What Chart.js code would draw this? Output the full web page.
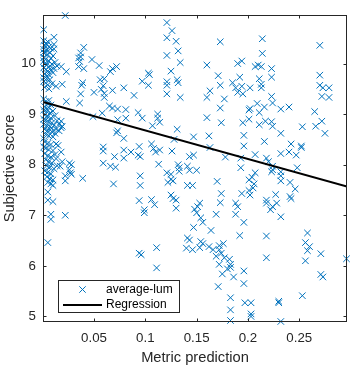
<!DOCTYPE html>
<html>
<head>
<meta charset="utf-8">
<script src="https://cdn.jsdelivr.net/npm/chart.js@4.4.1/dist/chart.umd.min.js"></script>
<style>
  html, body { margin: 0; padding: 0; background: #fff; }
  #wrap { position: relative; width: 353px; height: 370px; }
</style>
</head>
<body>
<div id="wrap"><canvas id="grafico"></canvas></div>
<script>
// [metric prediction, subjective score]
const nearZero = [
  [0.022,10.95],[0.001,10.67],[0.011,10.52],[0.011,10.38],[0.011,10.29],
  [0.001,10.45],[0.003,10.40],[0.005,10.43],[0.002,10.35],[0.006,10.33],[0.001,10.28],[0.004,10.26],[0.008,10.30],
  [0.002,10.20],[0.005,10.18],[0.007,10.22],[0.010,10.15],[0.001,10.12],[0.003,10.08],[0.006,10.05],[0.008,10.10],
  [0.002,10.00],[0.004,9.97],[0.007,9.95],[0.009,9.99],[0.012,10.02],[0.001,9.92],[0.003,9.88],[0.005,9.85],
  [0.008,9.87],[0.002,9.80],[0.006,9.78],[0.010,9.82],[0.001,9.72],[0.004,9.70],[0.007,9.68],[0.003,9.62],
  [0.005,9.58],[0.009,9.60],[0.002,9.53],[0.006,9.50],[0.013,9.55],[0.001,10.05],[0.004,9.75],[0.011,9.90],
  [0.014,9.95],[0.004,10.37],[0.001,9.65],[0.001,10.22],
  [0.018,9.94],[0.023,9.84],[0.019,9.59],[0.023,9.25],
  [0.001,9.30],[0.003,9.25],[0.005,9.20],[0.002,9.15],[0.006,9.13],[0.008,9.18],[0.001,9.08],[0.004,9.05],
  [0.007,9.02],[0.010,9.06],[0.002,8.98],[0.005,8.95],[0.008,8.92],[0.012,8.97],[0.003,8.88],[0.006,8.85],
  [0.009,8.83],[0.014,8.87],[0.001,8.80],[0.004,8.77],[0.007,8.75],[0.011,8.78],[0.016,8.80],[0.002,8.70],
  [0.005,8.68],[0.009,8.65],[0.013,8.70],[0.003,8.60],[0.006,8.57],[0.010,8.55],[0.001,8.52],[0.004,9.10],
  [0.001,8.90],[0.006,9.27],[0.009,8.72],[0.004,8.66],[0.012,8.62],
  [0.018,8.86],[0.018,8.73],[0.019,8.76],[0.016,8.67],[0.013,8.41],[0.015,8.38],[0.018,8.25],[0.026,8.03],
  [0.019,8.06],[0.028,8.00],[0.026,7.90],[0.027,7.84],[0.028,7.81],[0.022,7.78],[0.022,7.68],[0.017,7.97],
  [0.002,8.45],[0.005,8.42],[0.008,8.40],[0.003,8.33],[0.006,8.30],[0.010,8.28],[0.002,8.22],[0.005,8.18],
  [0.008,8.15],[0.012,8.20],[0.003,8.10],[0.006,8.06],[0.009,8.03],[0.004,7.98],[0.007,7.95],[0.011,7.92],
  [0.002,7.88],[0.005,7.85],[0.008,7.82],[0.004,7.76],[0.007,7.72],[0.010,7.70],[0.005,7.65],[0.008,7.62],
  [0.013,8.12],[0.014,7.98],[0.001,8.35],
  [0.010,7.59],[0.005,7.46],[0.005,7.30],[0.010,7.27],[0.008,7.02],[0.008,6.92],[0.022,7.00],[0.005,6.46]
];

const lowMetric = [
  [0.040,10.32],[0.037,10.21],[0.037,10.13],[0.035,10.11],[0.036,10.04],[0.048,10.08],[0.035,9.94],[0.040,9.90],
  [0.055,9.96],[0.068,9.90],[0.072,9.94],[0.066,9.84],[0.056,9.68],[0.060,9.70],[0.039,9.62],[0.038,9.57],
  [0.059,9.56],[0.057,9.49],[0.050,9.43],[0.060,9.41],[0.068,9.47],[0.079,9.52],[0.037,9.40],[0.060,9.33],
  [0.089,9.37],[0.036,9.22],[0.065,9.16],[0.068,9.12],[0.073,9.10],[0.058,9.02],[0.081,9.09],[0.093,9.03],
  [0.049,8.95],[0.073,8.89],[0.081,8.92],[0.073,8.67],[0.072,8.63],[0.079,8.52],[0.059,8.35],[0.059,8.27],
  [0.070,8.16],[0.079,8.29],[0.086,8.25],[0.079,8.13],[0.059,8.03],[0.066,7.97],[0.071,7.95],[0.039,7.73],
  [0.069,7.62],[0.094,6.25]
];

const midMetric = [
  [0.121,10.81],[0.126,10.65],[0.121,10.51],[0.130,10.44],[0.132,10.25],[0.121,10.16],[0.134,10.02],[0.125,9.85],
  [0.103,9.81],[0.104,9.78],[0.097,9.65],[0.103,9.57],[0.121,9.64],[0.121,9.57],[0.131,9.68],[0.132,9.62],
  [0.121,9.40],[0.134,9.33],[0.173,10.43],[0.160,9.97],[0.190,10.00],[0.194,10.05],[0.171,9.76],[0.173,9.57],
  [0.192,9.73],[0.185,9.62],[0.188,9.52],[0.194,9.55],[0.190,9.43],[0.195,9.40],[0.163,9.46],[0.160,9.33],
  [0.177,9.30],[0.173,9.12],[0.097,8.92],[0.112,9.00],[0.112,8.92],[0.160,8.93],
  [0.114,8.84],[0.107,8.77],[0.174,8.83],[0.131,8.70],[0.128,8.50],[0.147,8.55],[0.162,8.57],[0.094,8.36],
  [0.106,8.41],[0.108,8.32],[0.110,8.25],[0.114,8.29],[0.126,8.27],[0.093,8.19],[0.095,8.16],[0.163,8.34],
  [0.178,8.15],[0.193,8.13],[0.113,8.01],[0.143,8.16],[0.147,8.19],[0.132,8.00],[0.133,7.94],[0.133,7.87],
  [0.141,7.97],[0.143,7.89],[0.150,7.89],[0.121,7.84],[0.125,7.81],[0.125,7.71],[0.127,7.68],[0.122,7.65],
  [0.095,7.78],[0.095,7.59],[0.141,7.59],[0.146,7.59],[0.170,7.67],[0.193,7.94],[0.174,7.43],[0.194,7.43],
  [0.125,7.40],[0.106,7.31],[0.127,7.33],[0.130,7.30],[0.109,7.21],[0.094,7.29],[0.099,7.11],[0.099,7.05],
  [0.153,7.24],[0.151,7.17],[0.148,7.12],[0.150,7.05],[0.130,7.14],[0.173,7.25],[0.188,7.24],[0.190,7.17],
  [0.188,7.02],[0.169,7.02],[0.154,6.95],[0.156,6.86],[0.147,6.76],[0.196,6.86],
  [0.164,6.70],[0.192,6.60],[0.141,6.55],[0.143,6.51],[0.140,6.35],[0.146,6.32],[0.153,6.36],[0.154,6.48],
  [0.156,6.44],[0.162,6.38],[0.166,6.32],[0.172,6.40],[0.176,6.44],[0.172,6.32],[0.174,6.25],[0.177,6.16],
  [0.182,6.13],[0.183,6.03],[0.183,5.97],[0.180,5.94],[0.175,5.84],[0.186,5.78],[0.169,6.19],[0.172,6.03],
  [0.171,5.59],[0.196,5.90],[0.196,5.65],[0.096,6.22],[0.111,6.36],[0.111,5.96],[0.183,5.37],[0.183,5.13],
  [0.183,4.92],[0.197,5.27]
];

const highMetric = [
  [0.214,10.49],[0.214,10.20],[0.270,10.36],[0.207,9.94],[0.210,9.97],[0.213,9.94],[0.223,9.90],[0.223,9.73],
  [0.211,9.70],[0.213,9.59],[0.213,9.52],[0.202,9.52],[0.270,9.77],[0.270,9.57],[0.273,9.52],[0.279,9.52],
  [0.272,9.35],[0.279,9.33],[0.223,9.35],[0.224,9.22],[0.209,9.21],[0.216,9.14],[0.202,9.11],[0.201,9.08],
  [0.211,9.03],[0.232,9.10],[0.240,9.14],[0.265,9.05],[0.201,8.90],[0.217,8.86],[0.223,8.85],[0.272,8.86],
  [0.195,8.83],[0.211,8.79],[0.224,8.76],[0.253,8.75],[0.266,8.76],[0.275,8.62],[0.196,8.58],[0.232,8.62],
  [0.216,8.46],[0.242,8.41],[0.252,8.37],[0.252,8.34],[0.196,8.37],[0.207,8.20],[0.232,8.22],[0.240,8.25],
  [0.247,8.19],[0.218,8.13],[0.220,8.06],[0.224,7.97],[0.223,7.86],[0.224,7.90],[0.232,7.86],[0.232,7.78],
  [0.248,7.94],[0.207,7.84],[0.204,7.75],[0.201,7.70],[0.232,7.68],[0.206,7.62],[0.205,7.54],[0.201,7.49],
  [0.241,7.65],[0.246,7.52],[0.202,7.40],[0.227,7.41],[0.241,7.37],[0.242,7.33],[0.218,7.30],[0.218,7.24],
  [0.228,7.24],[0.224,7.17],[0.222,7.11],[0.232,6.97],
  [0.218,6.59],[0.258,6.65],[0.256,6.46],[0.260,6.38],[0.258,6.30],[0.271,6.24],[0.218,6.16],[0.256,6.10],
  [0.296,6.14],[0.271,5.83],[0.273,5.78],[0.253,5.41],[0.203,5.27],[0.230,5.30],[0.230,5.27],[0.203,5.05],
  [0.203,5.00],[0.232,4.90]
];

const averageLum = nearZero.concat(lowMetric, midMetric, highMetric);

// regression fit: score = intercept + slope * metric
const intercept = 9.24;
const slope = -5.64;

const xMin = 0.0003;
const xMax = 0.2965;
const yMin = 4.89;
const yMax = 10.96;
const xTicks = [0.05, 0.1, 0.15, 0.2, 0.25];
const yTicks = [5, 6, 7, 8, 9, 10];

const corEixo = "#262626";
const fonte = "'Liberation Sans', Arial, Helvetica, sans-serif";
const azul = "#0072BD";

// box around the axes with inward ticks on all sides
const caixaEixos = {
  id: "caixaEixos",
  afterDraw(chart) {
    const c = chart.ctx;
    const a = chart.chartArea;
    const sx = chart.scales.x;
    const sy = chart.scales.y;
    const t = 3.5;
    c.save();
    c.strokeStyle = corEixo;
    c.lineWidth = 1;
    c.beginPath();
    xTicks.forEach(v => {
      const px = Math.round(sx.getPixelForValue(v)) + 0.5;
      c.moveTo(px, a.bottom); c.lineTo(px, a.bottom - t);
      c.moveTo(px, a.top); c.lineTo(px, a.top + t);
    });
    yTicks.forEach(v => {
      const py = Math.round(sy.getPixelForValue(v)) + 0.5;
      c.moveTo(a.left, py); c.lineTo(a.left + t, py);
      c.moveTo(a.right, py); c.lineTo(a.right - t, py);
    });
    c.stroke();
    c.strokeRect(Math.round(a.left) + 0.5, Math.round(a.top) + 0.5,
      Math.round(a.right - a.left) - 1, Math.round(a.bottom - a.top) - 1);
    c.restore();
  }
};

// MATLAB-like legend box in the lower left corner
const legendaCaixa = {
  id: "legendaCaixa",
  afterDraw(chart) {
    const c = chart.ctx;
    const a = chart.chartArea;
    const ds = chart.data.datasets;
    const x0 = Math.round(a.left) + 15;
    const y0 = Math.round(a.bottom) - 42;
    const w = 122, h = 33;
    c.save();
    c.fillStyle = "#fff";
    c.fillRect(x0, y0, w, h);
    c.strokeStyle = corEixo;
    c.lineWidth = 1;
    c.strokeRect(x0 + 0.5, y0 + 0.5, w - 1, h - 1);

    // marker row
    const my = y0 + 9.5, mx = x0 + 24.5, r = 3.2;
    c.strokeStyle = ds[0].borderColor;
    c.beginPath();
    c.moveTo(mx - r, my - r); c.lineTo(mx + r, my + r);
    c.moveTo(mx + r, my - r); c.lineTo(mx - r, my + r);
    c.stroke();

    // line row
    const ly = y0 + 25;
    c.strokeStyle = ds[1].borderColor;
    c.lineWidth = ds[1].borderWidth;
    c.beginPath();
    c.moveTo(x0 + 5, ly); c.lineTo(x0 + 44, ly);
    c.stroke();

    c.fillStyle = "#000";
    c.font = "12px " + fonte;
    c.textBaseline = "middle";
    c.textAlign = "left";
    c.fillText(ds[0].label, x0 + 48, my);
    c.fillText(ds[1].label, x0 + 48, ly);
    c.restore();
  }
};

const ctx = document.getElementById("grafico").getContext("2d");
const grafico = new Chart(ctx, {
  type: "scatter",
  data: {
    datasets: [
      {
        label: "average-lum",
        data: averageLum.map(p => ({ x: p[0], y: p[1] })),
        pointStyle: "crossRot",
        pointRadius: 4.6,
        pointHoverRadius: 4.6,
        pointBorderWidth: 1,
        borderColor: azul,
        backgroundColor: azul,
        clip: false,
        order: 1,
      },
      {
        label: "Regression",
        data: [xMin, xMax].map(x => ({ x: x, y: intercept + slope * x })),
        showLine: true,
        borderColor: "#000",
        backgroundColor: "#000",
        borderWidth: 2,
        pointRadius: 0,
        order: 0,
      }
    ],
  },
  options: {
    responsive: true,
    maintainAspectRatio: false,
    animation: false,
    layout: { padding: { left: 0, right: 6, top: 5, bottom: 0 } },
    plugins: {
      legend: { display: false },
      tooltip: { enabled: false },
    },
    scales: {
      x: {
        type: "linear",
        min: xMin,
        max: xMax,
        afterBuildTicks: s => { s.ticks = xTicks.map(v => ({ value: v })); },
        afterFit: s => { s.height = 48; },
        grid: { display: false, drawTicks: false },
        border: { display: false },
        ticks: {
          color: corEixo,
          padding: 8,
          maxRotation: 0,
          font: { family: fonte, size: 13.3 },
          callback: v => String(v),
        },
        title: {
          display: true,
          text: "Metric prediction",
          color: corEixo,
          font: { family: fonte, size: 14.7 },
          padding: { top: 0, bottom: 3 },
        },
      },
      y: {
        type: "linear",
        min: yMin,
        max: yMax,
        afterBuildTicks: s => { s.ticks = yTicks.map(v => ({ value: v })); },
        afterFit: s => { s.width = 43; },
        grid: { display: false, drawTicks: false },
        border: { display: false },
        ticks: {
          color: corEixo,
          padding: 7,
          font: { family: fonte, size: 13.3 },
          callback: v => String(v),
        },
        title: {
          display: true,
          text: "Subjective score",
          color: corEixo,
          font: { family: fonte, size: 14.7 },
          padding: { top: 1, bottom: 0 },
        },
      },
    },
  },
  plugins: [caixaEixos, legendaCaixa],
});
</script>
</body>
</html>
